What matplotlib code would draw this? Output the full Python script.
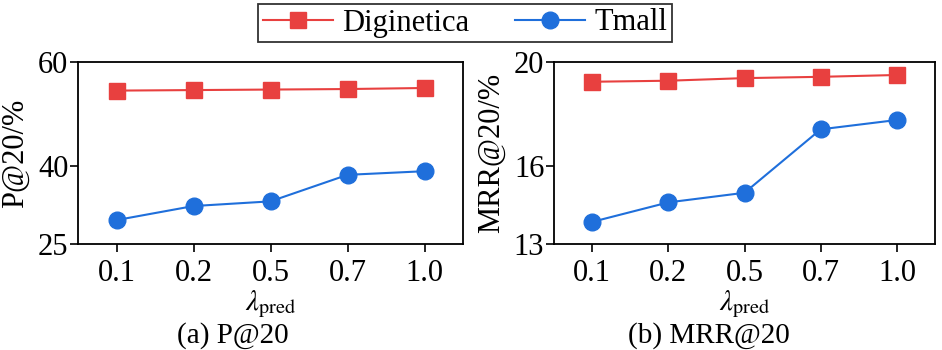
import numpy as np
import matplotlib
matplotlib.use('Agg')
import matplotlib.pyplot as plt

plt.rcParams['font.family'] = ['Liberation Serif', 'DejaVu Serif']
plt.rcParams['mathtext.fontset'] = 'stix'

# data
lambda_labels = ['0.1', '0.2', '0.5', '0.7', '1.0']
p20_diginetica = [54.5, 54.6, 54.7, 54.8, 55.0]
p20_tmall = [29.6, 32.3, 33.2, 38.3, 39.0]
mrr20_diginetica = [19.24, 19.28, 19.38, 19.43, 19.50]
mrr20_tmall = [13.85, 14.60, 14.97, 17.41, 17.77]

red = '#E8403F'
blue = '#1F6FDB'

fig = plt.figure(figsize=(9.42, 3.5), dpi=100)
ax1 = fig.add_axes([78/942, 106/350, 385/942, 182/350])
ax2 = fig.add_axes([554/942, 106/350, 381/942, 182/350])

xx = np.arange(len(lambda_labels))

panels = [
    (ax1, p20_diginetica, p20_tmall, (25, 60), [25, 40, 60], 'P@20/%', 385),
    (ax2, mrr20_diginetica, mrr20_tmall, (13, 20), [13, 16, 20], 'MRR@20/%', 381),
]
for ax, dig, tm, ylim, yt, ylab, wpx in panels:
    ax.plot(xx, dig, '-s', color=red, lw=1.5, ms=12, label='Diginetica')
    ax.plot(xx, tm, '-o', color=blue, lw=1.5, ms=12, label='Tmall')
    ax.set_xlim(-0.5, 4.5)
    ax.set_ylim(*ylim)
    ax.set_yticks(yt)
    ax.set_xticks(xx)
    ax.set_xticklabels(lambda_labels)
    ax.tick_params(axis='both', labelsize=22, length=6, width=1.2, direction='out')
    ax.tick_params(axis='y', pad=1)
    ax.tick_params(axis='x', pad=5)
    ax.set_ylabel(ylab, fontsize=22, va='center')
    ax.yaxis.set_label_coords(-63/wpx, 0.5)
    ax.set_xlabel(r'$\lambda_{\mathrm{pred}}$', fontsize=21, labelpad=0)
    for sp in ax.spines.values():
        sp.set_linewidth(1.3)

fig.text(233/942, 1 - 336/350, '(a) P@20', ha='center', va='center', fontsize=21)
fig.text(709/942, 1 - 336/350, '(b) MRR@20', ha='center', va='center', fontsize=21)

h, l = ax1.get_legend_handles_labels()
leg = fig.legend(h, l, loc='center', bbox_to_anchor=(465/942, 1 - 23/350), ncol=2,
                 fontsize=22, frameon=True, fancybox=False, handlelength=2.3,
                 borderpad=0.15, columnspacing=1.5, handletextpad=0.3)
leg.get_frame().set_edgecolor('black')
leg.get_frame().set_linewidth(1.3)

fig.savefig('out.png', dpi=100)
